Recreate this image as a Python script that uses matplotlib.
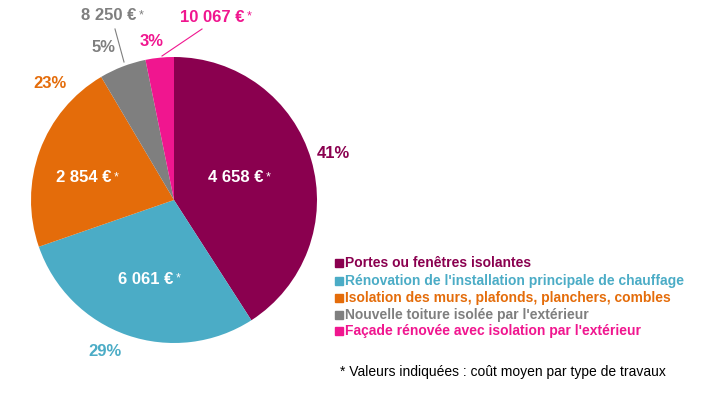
import matplotlib.pyplot as plt
from matplotlib.patches import Rectangle

plt.rcParams['font.family'] = ['Liberation Sans', 'DejaVu Sans']

categories = [
    "Portes ou fenêtres isolantes",
    "Rénovation de l'installation principale de chauffage",
    "Isolation des murs, plafonds, planchers, combles",
    "Nouvelle toiture isolée par l'extérieur",
    "Façade rénovée avec isolation par l'extérieur",
]
shares = [40.9, 28.8, 21.8, 5.3, 3.2]
pct_labels = ["41%", "29%", "23%", "5%", "3%"]
cost_values = ["4 658 €", "6 061 €", "2 854 €", "8 250 €", "10 067 €"]
colors = ["#8A004F", "#4BACC6", "#E46C0A", "#7F7F7F", "#F0168F"]
note = "* Valeurs indiquées : coût moyen par type de travaux"

W, H = 706, 394
fig = plt.figure(figsize=(W / 100, H / 100), dpi=100)

# pie centre / radius in pixels
cx, cy, r = 174, 200, 143
ax = fig.add_axes([(cx - r) / W, (H - cy - r) / H, 2 * r / W, 2 * r / H])
wedges, _ = ax.pie(shares, colors=colors, startangle=90, counterclock=False,
                   radius=1.0)
ax.set_xlim(-1, 1)
ax.set_ylim(-1, 1)
ax.set_aspect('equal')
ax.axis('off')


def px(x, y):
    # pixel position -> pie data coords
    return (x - cx) / r, (cy - y) / r


def cost_label(x, y, txt, color):
    # value in bold, the asterisk smaller and raised
    t = ax.text(*px(x, y), txt, color=color, fontsize=12, fontweight='bold',
                ha='right', va='center', clip_on=False)
    ax.annotate("*", xy=(1, 1), xycoords=t, xytext=(2, -1),
                textcoords='offset points', color=color, fontsize=9,
                ha='left', va='top', annotation_clip=False)


# costs inside the big slices (right edge of the value, before the star)
inside = [(263, 178), (173, 279), (111, 178)]
for i, (x, y) in enumerate(inside):
    cost_label(x, y, cost_values[i], 'white')

# percentages outside
pct_pos = [(333, 154), (105, 352), (50, 84), (104, 48), (152, 41)]
for i, (x, y) in enumerate(pct_pos):
    ax.text(*px(x, y), pct_labels[i], color=colors[i], fontsize=12,
            fontweight='bold', ha='center', va='center', clip_on=False)

# costs for the small slices, with leader lines
cost_label(136, 16, cost_values[3], colors[3])
ax.plot(*zip(px(115, 29), px(124, 62)), color=colors[3], lw=0.8, clip_on=False)
cost_label(244, 17, cost_values[4], colors[4])
ax.plot(*zip(px(202, 29), px(162, 56)), color=colors[4], lw=0.8, clip_on=False)

# legend drawn by hand
rows = [263, 281, 298, 315, 331]
for i, y in enumerate(rows):
    fig.patches.append(Rectangle((335 / W, (H - y - 4) / H), 8 / W, 8 / H,
                                 transform=fig.transFigure, color=colors[i]))
    fig.text(345 / W, (H - y) / H, categories[i], color=colors[i],
             fontsize=10, fontweight='bold', ha='left', va='center')

fig.text(340 / W, (H - 372) / H, note, color='black', fontsize=10,
         ha='left', va='center')

fig.savefig("out.png", dpi=100)
